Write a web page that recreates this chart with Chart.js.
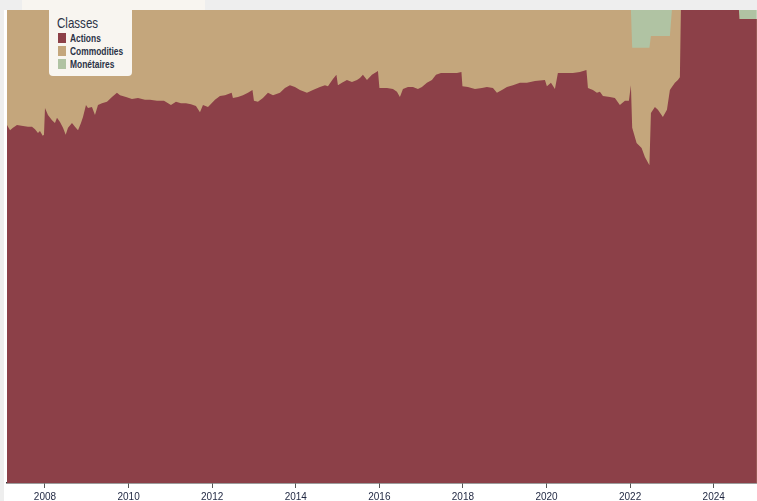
<!DOCTYPE html>
<html>
<head>
<meta charset="utf-8">
<script src="https://cdn.jsdelivr.net/npm/chart.js@4.4.1/dist/chart.umd.min.js"></script>
<style>
html,body{margin:0;padding:0;background:#eeeeee;width:757px;height:501px;overflow:hidden;}
#panel{position:absolute;left:4px;top:10px;width:753px;height:491px;background:#ffffff;}
#strip{position:absolute;left:22px;top:0;width:183px;height:10px;background:#f8f5f0;}
#c{position:absolute;left:0;top:0;}
#legend{position:absolute;left:49px;top:10px;width:83px;height:66px;background:#f8f5f0;border-radius:0 0 4px 4px;color:#2b3246;font-family:'Liberation Sans Narrow','Liberation Sans',Arial,sans-serif;}
#legend .title{position:absolute;left:8px;top:5px;font-size:15px;line-height:15px;white-space:nowrap;transform:scaleX(0.77);transform-origin:0 0;}
#legend .item{position:absolute;left:9px;height:13px;white-space:nowrap;}
#legend .sw{position:absolute;left:0;top:1px;width:8px;height:10px;}
#legend .lb{position:absolute;left:12px;top:0;font-size:10.5px;line-height:13px;font-weight:bold;transform:scaleX(0.8);transform-origin:0 0;}
</style>
</head>
<body>
<div id="panel"></div>
<div id="strip"></div>
<canvas id="c" width="757" height="506"></canvas>
<div id="legend"></div>
<script>
// ---- DATA ----
const legendTitle = 'Classes';
const seriesNames = ['Actions', 'Commodities', 'Monétaires'];
const tickYears = [2008, 2010, 2012, 2014, 2016, 2018, 2020, 2022, 2024];
const tickLabels = ['2008', '2010', '2012', '2014', '2016', '2018', '2020', '2022', '2024'];

const years = [
2007.091,2007.163,2007.234,2007.330,2007.474,2007.593,2007.689,2007.761,2007.832,2007.880,
2007.945,2007.976,2008.000,2008.071,2008.168,2008.239,2008.287,2008.359,2008.431,2008.495,
2008.551,2008.646,2008.717,2008.790,2008.861,2008.909,2008.981,2009.029,2009.124,2009.196,
2009.268,2009.363,2009.483,2009.603,2009.722,2009.795,2009.938,2010.081,2010.225,2010.392,
2010.512,2010.680,2010.847,2011.014,2011.134,2011.253,2011.373,2011.493,2011.612,2011.708,
2011.780,2011.900,2012.067,2012.187,2012.306,2012.466,2012.497,2012.617,2012.737,2012.856,
2012.964,2013.000,2013.095,2013.215,2013.335,2013.455,2013.622,2013.741,2013.861,2013.980,
2014.100,2014.268,2014.411,2014.579,2014.699,2014.770,2014.890,2014.973,2015.009,2015.105,
2015.224,2015.345,2015.465,2015.536,2015.607,2015.704,2015.823,2015.967,2016.002,2016.182,
2016.326,2016.421,2016.492,2016.565,2016.684,2016.804,2016.923,2017.019,2017.138,2017.258,
2017.355,2017.474,2017.689,2017.857,2017.964,2017.988,2018.119,2018.287,2018.455,2018.574,
2018.718,2018.813,2018.933,2019.053,2019.196,2019.364,2019.531,2019.723,2019.962,2020.009,
2020.106,2020.201,2020.272,2020.392,2020.631,2020.799,2020.955,2020.991,2021.110,2021.206,
2021.277,2021.350,2021.516,2021.636,2021.755,2021.876,2021.971,2022.019,2022.050,2022.155,
2022.275,2022.354,2022.462,2022.498,2022.593,2022.665,2022.784,2022.881,2022.952,2023.000,
2023.072,2023.143,2023.191,2023.215,2024.603,2024.615,2025.033
];

const actions = [
75.7,74.6,75.1,75.7,75.5,75.3,75.3,74.8,74.0,74.4,
73.4,73.6,79.3,77.8,76.7,76.1,77.2,76.3,75.1,73.6,
75.1,76.1,75.3,74.6,76.1,77.4,79.9,79.3,79.5,77.8,
79.9,80.3,80.6,81.6,82.5,82.0,81.6,81.2,81.4,81.0,
81.0,80.8,80.8,79.9,80.6,80.3,80.3,80.1,79.7,78.4,
79.9,79.5,81.0,81.8,82.0,82.5,81.4,81.6,82.0,82.5,
83.1,80.8,80.6,81.4,82.5,82.0,82.5,83.5,84.1,83.7,
83.1,82.5,83.1,83.7,84.1,83.9,85.4,86.3,84.1,84.6,
85.2,84.8,85.2,85.6,86.3,85.2,86.3,87.1,83.5,83.5,
83.3,82.7,81.6,83.3,83.7,83.7,83.3,83.7,84.6,85.2,
86.3,86.7,86.7,86.7,86.9,83.9,83.7,83.3,83.5,83.7,
83.5,82.5,83.1,83.7,84.1,84.6,84.6,85.0,85.2,83.9,
84.6,83.3,86.7,86.7,86.7,86.9,87.3,83.5,83.1,82.5,
82.7,81.8,81.6,81.4,79.9,80.8,80.8,84.1,75.1,71.9,
70.8,68.9,67.2,78.2,79.5,78.9,77.4,78.9,83.1,83.7,
84.6,85.2,85.8,100,100,98.1,98.1
];

const commodities = [
24.3,25.4,24.9,24.3,24.5,24.7,24.7,25.2,26.0,25.6,
26.6,26.4,20.7,22.2,23.3,23.9,22.8,23.7,24.9,26.4,
24.9,23.9,24.7,25.4,23.9,22.6,20.1,20.7,20.5,22.2,
20.1,19.7,19.4,18.4,17.5,18.0,18.4,18.8,18.6,19.0,
19.0,19.2,19.2,20.1,19.4,19.7,19.7,19.9,20.3,21.6,
20.1,20.5,19.0,18.2,18.0,17.5,18.6,18.4,18.0,17.5,
16.9,19.2,19.4,18.6,17.5,18.0,17.5,16.5,15.9,16.3,
16.9,17.5,16.9,16.3,15.9,16.1,14.6,13.7,15.9,15.4,
14.8,15.2,14.8,14.4,13.7,14.8,13.7,12.9,16.5,16.5,
16.7,17.3,18.4,16.7,16.3,16.3,16.7,16.3,15.4,14.8,
13.7,13.3,13.3,13.3,13.1,16.1,16.3,16.7,16.5,16.3,
16.5,17.5,16.9,16.3,15.9,15.4,15.4,15.0,14.8,16.1,
15.4,16.7,13.3,13.3,13.3,13.1,12.7,16.5,16.9,17.5,
17.3,18.2,18.4,18.6,20.1,19.2,19.2,15.9,16.9,20.1,
21.2,23.1,24.8,16.3,15.0,15.6,17.1,15.6,11.4,16.3,
15.4,14.8,14.2,0,0,0,0
];

const monetaires = [
0,0,0,0,0,0,0,0,0,0,0,0,0,0,0,0,0,0,0,0,
0,0,0,0,0,0,0,0,0,0,0,0,0,0,0,0,0,0,0,0,
0,0,0,0,0,0,0,0,0,0,0,0,0,0,0,0,0,0,0,0,
0,0,0,0,0,0,0,0,0,0,0,0,0,0,0,0,0,0,0,0,
0,0,0,0,0,0,0,0,0,0,0,0,0,0,0,0,0,0,0,0,
0,0,0,0,0,0,0,0,0,0,0,0,0,0,0,0,0,0,0,0,
0,0,0,0,0,0,0,0,0,0,0,0,0,0,0,0,0,0,
8.0,8.0,8.0,8.0,8.0,
5.5,5.5,5.5,5.5,5.5,5.5,
0,0,0,0,0,0,
1.9,1.9
];

// ---- STYLE ----
const colors = ['#8c4048', '#c4a67c', '#b0c3a3'];
const fontFam = "'Liberation Sans Narrow','Liberation Sans',Arial,sans-serif";

// ---- LEGEND (HTML, real text) ----
const lg = document.getElementById('legend');
const t = document.createElement('div');
t.className = 'title'; t.textContent = legendTitle; lg.appendChild(t);
seriesNames.forEach((n, i) => {
  const it = document.createElement('div');
  it.className = 'item';
  it.style.top = (22 + i * 13) + 'px';
  const sw = document.createElement('div'); sw.className = 'sw'; sw.style.background = colors[i];
  const lb = document.createElement('div'); lb.className = 'lb'; lb.textContent = n;
  it.appendChild(sw); it.appendChild(lb); lg.appendChild(it);
});

// ---- CHART ----
const seriesValues = [actions, commodities, monetaires];
const datasets = seriesNames.map((n, i) => ({
  label: n,
  data: years.map((x, k) => ({ x: x, y: seriesValues[i][k] })),
  backgroundColor: colors[i],
  borderColor: colors[i],
  borderWidth: 0,
  pointRadius: 0,
  tension: 0,
  fill: 'origin'
}));

new Chart(document.getElementById('c'), {
  type: 'line',
  data: { datasets: datasets },
  options: {
    responsive: false,
    animation: false,
    layout: { padding: { left: 7, right: 0, top: 10, bottom: 0 } },
    plugins: { legend: { display: false }, tooltip: { enabled: false } },
    scales: {
      x: {
        type: 'linear',
        min: 2007.091,
        max: 2025.036,
        afterBuildTicks: (s) => { s.ticks = tickYears.map(v => ({ value: v })); },
        ticks: {
          autoSkip: false, maxRotation: 0, padding: 3,
          color: '#1e2640',
          font: { family: fontFam, size: 10 },
          callback: (v, i) => tickLabels[i]
        },
        grid: { drawOnChartArea: false, drawTicks: true, tickLength: 5, color: '#555555', lineWidth: 1 },
        border: { display: true, color: '#3a3a3a', width: 1.5 }
      },
      y: { display: false, stacked: true, min: 0, max: 100 }
    }
  }
});
</script>
</body>
</html>
